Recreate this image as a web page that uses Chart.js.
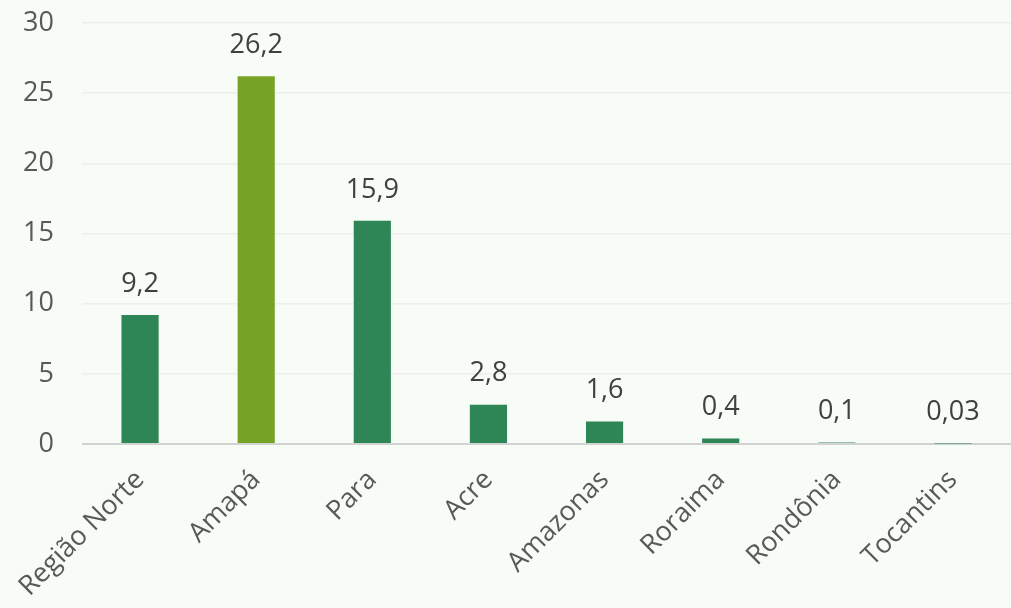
<!DOCTYPE html>
<html>
<head>
<meta charset="utf-8">
<script src="https://cdn.jsdelivr.net/npm/chart.js@4"></script>
<style>
  html, body { margin: 0; padding: 0; background: #f7fcf6; }
  #wrap { width: 1011px; height: 608px; }
</style>
</head>
<body>
<div id="wrap"><canvas id="myChart"></canvas></div>
<script>
var regions = ['Região Norte', 'Amapá', 'Para', 'Acre', 'Amazonas', 'Roraima', 'Rondônia', 'Tocantins'];
var values  = [9.2, 26.2, 15.9, 2.8, 1.6, 0.4, 0.1, 0.03];
var y_ticks = [0, 5, 10, 15, 20, 25, 30];

var barColors = ['#2e8555', '#77a325', '#2e8555', '#2e8555', '#2e8555', '#2e8555', '#2e8555', '#2e8555'];

function fmt(v) {
    return String(v).replace('.', ',');
}

// labels above each bar
var valueLabels = {
    id: 'valueLabels',
    afterDatasetsDraw: function(chart) {
        var ctx = chart.ctx;
        var meta = chart.getDatasetMeta(0);
        ctx.save();
        ctx.font = '27px "Open Sans"';
        ctx.fillStyle = '#404040';
        ctx.textAlign = 'center';
        ctx.textBaseline = 'middle';
        meta.data.forEach(function(bar, i) {
            ctx.fillText(fmt(values[i]), bar.x, bar.y - 31);
        });
        ctx.restore();
    }
};

var data = {
    labels: regions,
    datasets: [
        {
            data: values,
            backgroundColor: barColors,
            borderWidth: 0,
            barPercentage: 0.32,
            categoryPercentage: 1.0,
        },
    ]
};

var config = {
    type: 'bar',
    data,
    plugins: [valueLabels],
    options: {
        responsive: true,
        maintainAspectRatio: false,
        animation: false,
        layout: { padding: { top: 23, left: 0, right: 0, bottom: 0 } },
        plugins: {
            legend: { display: false },
            tooltip: { enabled: false },
        },
        scales: {
            x: {
                grid: { display: false },
                border: { display: false },
                afterFit: function(scale) {
                    scale.height = 164;
                    scale.paddingLeft = 0;
                    scale.paddingRight = 0;
                },
                ticks: {
                    font: { family: 'Open Sans', size: 27 },
                    color: '#595959',
                    maxRotation: 45,
                    minRotation: 45,
                    autoSkip: false,
                    padding: 12,
                },
            },
            y: {
                min: 0,
                max: 30,
                afterBuildTicks: function(scale) {
                    scale.ticks = y_ticks.map(function(v) { return { value: v }; });
                },
                afterFit: function(scale) {
                    scale.width = 82;
                    scale.paddingTop = 0;
                    scale.paddingBottom = 0;
                },
                grid: {
                    color: function(c) { return c.tick && c.tick.value === 0 ? '#d2d2d2' : '#efedef'; },
                    lineWidth: function(c) { return c.tick && c.tick.value === 0 ? 2 : 1.5; },
                    drawTicks: false,
                },
                border: { display: false },
                ticks: {
                    font: { family: 'Open Sans', size: 27 },
                    color: '#595959',
                    padding: 28,
                },
            },
        },
    }
};

var myChart = new Chart(
    document.getElementById('myChart'),
    config
);
</script>
</body>
</html>
